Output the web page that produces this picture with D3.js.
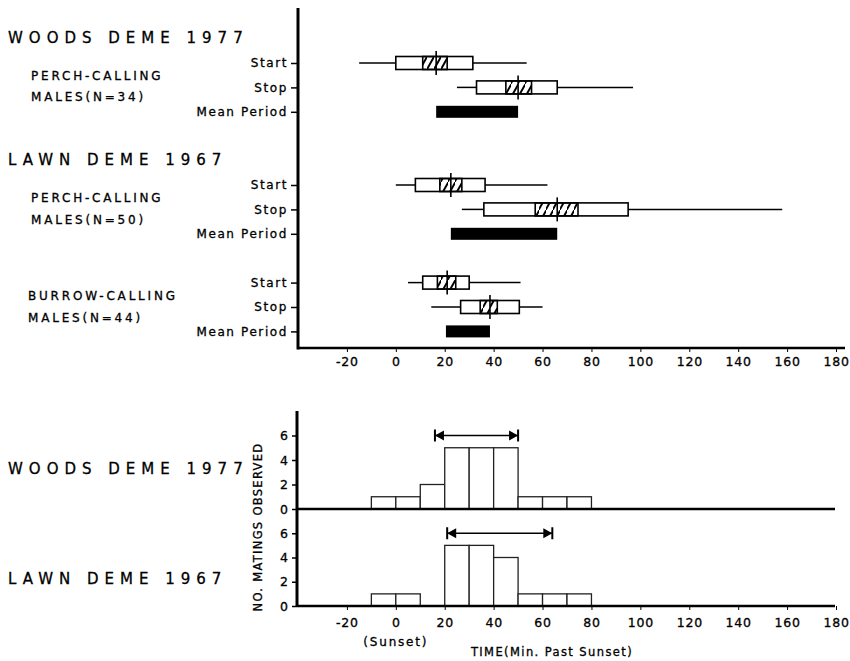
<!DOCTYPE html>
<html>
<head>
<meta charset="utf-8">
<script src="https://cdn.jsdelivr.net/npm/d3@7"></script>
<style>
  body { margin: 0; background: #fff; }
  text { font-family: "DejaVu Sans", sans-serif; fill: #000; stroke: #000; stroke-width: 0.3px; }
</style>
</head>
<body>
<div id="chart"></div>
<script>
// ---- data ----
const groupTitles = ["WOODS DEME 1977", "LAWN DEME 1967", null];
const groupLabels = [
  ["PERCH-CALLING", "MALES(N=34)"],
  ["PERCH-CALLING", "MALES(N=50)"],
  ["BURROW-CALLING", "MALES(N=44)"]
];
const rowNames = ["Start", "Stop", "Mean Period"];
// [low whisker, q1, notch low, median, notch high, q3, high whisker]
const startStats = [
  [-15, 0, 11, 16.5, 21, 31.5, 53.5],
  [0, 8, 18, 22.5, 27, 36.5, 62],
  [5, 11, 17, 21, 24.5, 30, 51]
];
const stopStats = [
  [25, 33, 45, 50, 55.5, 66, 97],
  [27, 36, 57, 66, 74.5, 95, 158],
  [14.5, 26.5, 34.5, 38.5, 41.5, 50.5, 60]
];
const meanPeriod = [[16.5, 50], [22.5, 66], [20.5, 38.5]];
const xTicks = [-20, 0, 20, 40, 60, 80, 100, 120, 140, 160, 180];

const histTitles = ["WOODS DEME 1977", "LAWN DEME 1967"];
const binStarts = [-10, 0, 10, 20, 30, 40, 50, 60, 70];
const woodsMatings = [1, 1, 2, 5, 5, 5, 1, 1, 1];
const lawnMatings = [1, 1, 0, 5, 5, 4, 1, 1, 1];
const matingPeriods = [[16, 50], [21, 64]];
const yTicks = [0, 2, 4, 6];

// ---- layout ----
const W = 850, H = 661;
const axisX = 298;
const groupSlot = [0, 5, 9];

const svg = d3.select("#chart").append("svg")
  .attr("width", W).attr("height", H);

const defs = svg.append("defs");
defs.append("pattern")
  .attr("id", "hatch")
  .attr("patternUnits", "userSpaceOnUse")
  .attr("width", 7).attr("height", 14)
  .append("path")
  .attr("d", "M-1,15 L8,-1")
  .attr("stroke", "#000")
  .attr("stroke-width", 2);

const x = d3.scaleLinear().domain([-40, 180]).range([axisX, 836]);
const rowY = d3.scaleLinear().domain([0, 11]).range([63, 331.4]);
const tickFmt = d => String(d);

// ---- top panel axes ----
const slots = [];
groupSlot.forEach(s => rowNames.forEach((r, i) => slots.push(s + i)));

const leftAx = svg.append("g")
  .attr("transform", `translate(${axisX},0)`)
  .call(d3.axisLeft(rowY).tickValues(slots).tickSize(7).tickPadding(3)
    .tickFormat(d => rowNames[slots.indexOf(d) % 3]));
leftAx.select("path.domain").remove();
leftAx.selectAll("text").style("font-size", "12px").style("letter-spacing", "1.6px");
leftAx.selectAll(".tick line").attr("stroke-width", 1.5);

svg.append("line")
  .attr("x1", axisX).attr("x2", axisX).attr("y1", 8).attr("y2", 349.5)
  .attr("stroke", "#000").attr("stroke-width", 3);

const topAx = svg.append("g")
  .attr("transform", "translate(0,348)")
  .call(d3.axisBottom(x).tickValues(xTicks).tickSize(4).tickPadding(5).tickFormat(tickFmt));
topAx.select("path.domain").remove();
topAx.selectAll("text").style("font-size", "12.5px").style("letter-spacing", "0.8px");
svg.append("line")
  .attr("x1", axisX).attr("x2", 845).attr("y1", 348).attr("y2", 348)
  .attr("stroke", "#000").attr("stroke-width", 2.5);

// ---- group labels ----
const titleY = [43, 165, null];
const subY = [[80, 101], [202, 224], [300, 322]];
const subX = [31, 31, 28];
groupTitles.forEach((t, g) => {
  if (t) svg.append("text").attr("x", 8).attr("y", titleY[g])
    .style("font-size", "15px").style("letter-spacing", "6px").text(t);
  groupLabels[g].forEach((s, k) => {
    svg.append("text").attr("x", subX[g]).attr("y", subY[g][k])
      .style("font-size", "12px").style("letter-spacing", "2.8px").text(s);
  });
});

// ---- box plots ----
function drawBox(stats, yc) {
  const [lo, q1, cl, med, ch, q3, hi] = stats;
  const h = 13;
  const g = svg.append("g");
  g.append("line").attr("x1", x(lo)).attr("x2", x(q1)).attr("y1", yc).attr("y2", yc)
    .attr("stroke", "#000").attr("stroke-width", 1.5);
  g.append("line").attr("x1", x(q3)).attr("x2", x(hi)).attr("y1", yc).attr("y2", yc)
    .attr("stroke", "#000").attr("stroke-width", 1.5);
  g.append("rect").attr("x", x(q1)).attr("y", yc - h / 2)
    .attr("width", x(q3) - x(q1)).attr("height", h)
    .attr("fill", "#fff").attr("stroke", "#000").attr("stroke-width", 1.6);
  g.append("rect").attr("x", x(cl)).attr("y", yc - h / 2)
    .attr("width", x(ch) - x(cl)).attr("height", h)
    .attr("fill", "url(#hatch)").attr("stroke", "#000").attr("stroke-width", 1.6);
  g.append("line").attr("x1", x(med)).attr("x2", x(med)).attr("y1", yc - 12).attr("y2", yc + 12)
    .attr("stroke", "#000").attr("stroke-width", 1.6);
}

groupSlot.forEach((s, gi) => {
  drawBox(startStats[gi], rowY(s));
  drawBox(stopStats[gi], rowY(s + 1));
  const [a, b] = meanPeriod[gi];
  svg.append("rect")
    .attr("x", x(a)).attr("y", rowY(s + 2) - 6)
    .attr("width", x(b) - x(a)).attr("height", 12)
    .attr("fill", "#000");
});

// ---- histograms ----
const yH = [
  d3.scaleLinear().domain([0, 8]).range([509, 411]),
  d3.scaleLinear().domain([0, 8]).range([606, 509])
];
const counts = [woodsMatings, lawnMatings];

yH.forEach((y, p) => {
  const ax = svg.append("g")
    .attr("transform", `translate(${axisX - 1},0)`)
    .call(d3.axisLeft(y).tickValues(yTicks).tickSize(5).tickPadding(4));
  ax.select("path.domain").remove();
  ax.selectAll("text").style("font-size", "12.5px");
  ax.selectAll(".tick line").attr("stroke-width", 1.5);

  const bins = binStarts.map((b, i) => ({ b, c: counts[p][i] })).filter(d => d.c > 0);
  svg.append("g").selectAll("rect")
    .data(bins)
    .enter().append("rect")
    .attr("x", d => x(d.b))
    .attr("y", d => y(d.c))
    .attr("width", d => x(d.b + 10) - x(d.b))
    .attr("height", d => y(0) - y(d.c))
    .attr("fill", "#fff")
    .attr("stroke", "#222")
    .attr("stroke-width", 1.3);

  // baseline
  svg.append("line")
    .attr("x1", axisX - 1).attr("x2", 835).attr("y1", y(0)).attr("y2", y(0))
    .attr("stroke", "#000").attr("stroke-width", 2.5);

  // mating period arrow
  const [a, b] = matingPeriods[p];
  const ay = y(6), xa = x(a), xb = x(b);
  const ar = svg.append("g");
  ar.append("line").attr("x1", xa).attr("x2", xb).attr("y1", ay).attr("y2", ay)
    .attr("stroke", "#000").attr("stroke-width", 1.5);
  [[xa, 1], [xb, -1]].forEach(([px, dir]) => {
    ar.append("line").attr("x1", px).attr("x2", px).attr("y1", ay - 6).attr("y2", ay + 6)
      .attr("stroke", "#000").attr("stroke-width", 2);
    ar.append("path")
      .attr("d", `M${px},${ay} L${px + dir * 9},${ay - 5} L${px + dir * 9},${ay + 5} Z`)
      .attr("fill", "#000");
  });

  svg.append("text").attr("x", 8).attr("y", p === 0 ? 474 : 584)
    .style("font-size", "15px").style("letter-spacing", "6px").text(histTitles[p]);
});

svg.append("line")
  .attr("x1", axisX - 1).attr("x2", axisX - 1).attr("y1", 411).attr("y2", 607)
  .attr("stroke", "#000").attr("stroke-width", 3);

const botAx = svg.append("g")
  .attr("transform", "translate(0,606)")
  .call(d3.axisBottom(x).tickValues(xTicks).tickSize(4).tickPadding(8).tickFormat(tickFmt));
botAx.select("path.domain").remove();
botAx.selectAll("text").style("font-size", "12.5px").style("letter-spacing", "0.8px");

svg.append("text").attr("x", x(0)).attr("y", 646)
  .attr("text-anchor", "middle").style("font-size", "12px").style("letter-spacing", "1.8px")
  .text("(Sunset)");
svg.append("text").attr("x", 552).attr("y", 656)
  .attr("text-anchor", "middle").style("font-size", "11.5px").style("letter-spacing", "1.4px")
  .text("TIME(Min. Past Sunset)");

svg.append("text")
  .attr("transform", "translate(262,527) rotate(-90)")
  .attr("text-anchor", "middle").style("font-size", "11.5px").style("letter-spacing", "1.3px")
  .text("NO. MATINGS OBSERVED");
</script>
</body>
</html>
